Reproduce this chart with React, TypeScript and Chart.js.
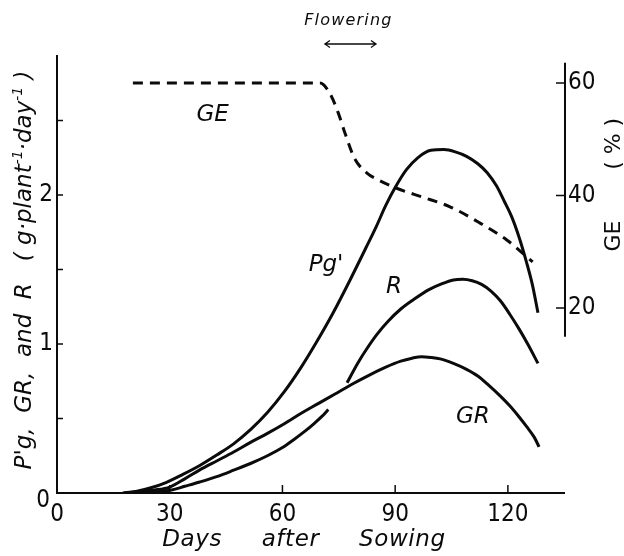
import { useEffect, useRef } from 'react';
import { Chart, registerables } from 'chart.js';

Chart.register(...registerables);

// ---- axis ticks ----
const X_TICKS = [0, 30, 60, 90, 120];
const Y_TICKS = [0, 0.5, 1, 1.5, 2, 2.5];
const GE_TICKS = [20, 40, 60];

// ---- axis ranges ----
const X_MAX = 135.2;
const Y_MAX = 2.94;
const GE_MIN = -12.9;
const GE_MAX = 65;
const GE_AXIS_TOP = 63.6;
const GE_AXIS_BOTTOM = 14.9;

// ---- gross photosynthesis Pg' (g plant-1 day-1) ----
const PG_DAYS = [17.5, 21, 25, 29, 33.5, 38, 42.5, 47, 51.5, 56, 60.5, 65, 69, 73.5, 78, 82.5, 85, 87.5, 90, 93, 96, 99.5, 103, 106, 109, 112, 114.5, 117, 119, 121, 123, 125, 126.5, 128];
const PG_VALUES = [0, 0.01, 0.035, 0.07, 0.125, 0.185, 0.255, 0.33, 0.425, 0.54, 0.68, 0.845, 1.01, 1.21, 1.43, 1.66, 1.79, 1.93, 2.05, 2.17, 2.25, 2.3, 2.305, 2.29, 2.26, 2.21, 2.15, 2.06, 1.96, 1.855, 1.715, 1.545, 1.4, 1.21];

// ---- growth rate GR ----
const GR_DAYS = [18, 22, 26, 30, 34, 38, 42.5, 47, 51.5, 56, 60.5, 65, 69.5, 74, 78.5, 83, 87.5, 91.5, 94.5, 97, 99.5, 102, 105.5, 109, 112, 115, 118, 120.5, 123, 125, 127, 128.3];
const GR_VALUES = [0, 0.01, 0.02, 0.04, 0.095, 0.155, 0.215, 0.275, 0.34, 0.4, 0.465, 0.535, 0.6, 0.665, 0.73, 0.79, 0.845, 0.885, 0.905, 0.915, 0.91, 0.9, 0.87, 0.83, 0.785, 0.72, 0.65, 0.585, 0.51, 0.445, 0.375, 0.31];

// ---- respiration R (broken around flowering) ----
const R_DAYS = [20, 25, 30.5, 34, 38, 42.5, 47, 51.5, 56, 60, 63, 66, 68.5, 70.5, 72.2, 74.5, 77.2, 80, 82.5, 85, 88, 91.5, 95, 99, 102.5, 105.5, 108, 110.5, 113, 115.5, 118, 120.5, 123, 125.5, 128];
const R_VALUES = [0, 0.005, 0.02, 0.045, 0.074, 0.11, 0.153, 0.198, 0.25, 0.305, 0.358, 0.415, 0.468, 0.514, 0.56, null, 0.74, 0.87, 0.97, 1.06, 1.15, 1.235, 1.3, 1.365, 1.405, 1.43, 1.435, 1.425, 1.4, 1.355, 1.29, 1.2, 1.1, 0.99, 0.87];

// ---- growth efficiency GE (%) ----
const GE_DAYS = [20.2, 70, 72.6, 74.8, 76.8, 79.2, 82.5, 85.5, 90.4, 97.4, 104.6, 112.6, 119.7, 126.6];
const GE_VALUES = [60, 60, 58.2, 54.8, 50.8, 46.6, 44.0, 42.8, 41.3, 39.7, 38.0, 35.1, 32.1, 28.2];

// ---- flowering period (days) ----
const FLOWERING = [71.3, 84.9];

const INK = '#0b0b0b';
const TICK_FAMILY = '"Liberation Sans Narrow", "DejaVu Sans Condensed", "Liberation Sans", sans-serif';
const LABEL_FAMILY = '"DejaVu Sans", "Liberation Sans", sans-serif';

// curve labels anchored in data space (day, value on the left axis)
const CURVE_LABELS: { text: string; day: number; value: number }[] = [
  { text: 'GE', day: 41.4, value: 2.495 },
  { text: "Pg'", day: 71.6, value: 1.49 },
  { text: 'R', day: 89.7, value: 1.342 },
  { text: 'GR', day: 110.7, value: 0.468 },
];

const toPoints = (xs: number[], ys: (number | null)[]) => xs.map((d, i) => ({ x: d, y: ys[i] }));

type Piece = { text: string; font: string; dy?: number };

function drawPieces(ctx: CanvasRenderingContext2D, pieces: Piece[], cx: number, baseline: number) {
  let total = 0;
  const widths = pieces.map((p) => {
    ctx.font = p.font;
    const w = ctx.measureText(p.text).width;
    total += w;
    return w;
  });
  let x = cx - total / 2;
  pieces.forEach((p, i) => {
    ctx.font = p.font;
    ctx.fillText(p.text, x, baseline + (p.dy || 0));
    x += widths[i];
  });
}

const decorPlugin = {
  id: 'decor',
  beforeDatasetsDraw(chart: any) {
    const { ctx, chartArea, scales } = chart;
    const xs = scales.x;
    const ys = scales.y;
    const gs = scales.ge;
    const x0 = xs.getPixelForValue(0);
    const yb = ys.getPixelForValue(0);
    const xr = chartArea.right;
    ctx.save();
    ctx.strokeStyle = INK;
    ctx.lineWidth = 2;
    // left and bottom axes
    ctx.beginPath();
    ctx.moveTo(x0, chartArea.top);
    ctx.lineTo(x0, yb);
    ctx.lineTo(xr, yb);
    ctx.stroke();
    // right GE axis, only over its own range
    ctx.beginPath();
    ctx.moveTo(xr, gs.getPixelForValue(GE_AXIS_TOP));
    ctx.lineTo(xr, gs.getPixelForValue(GE_AXIS_BOTTOM));
    ctx.stroke();
    // inward tick marks
    ctx.lineWidth = 1.5;
    ctx.beginPath();
    Y_TICKS.filter((v) => v > 0).forEach((v) => {
      const py = ys.getPixelForValue(v);
      ctx.moveTo(x0, py);
      ctx.lineTo(x0 + 6, py);
    });
    X_TICKS.filter((v) => v > 0).forEach((v) => {
      const px = xs.getPixelForValue(v);
      ctx.moveTo(px, yb);
      ctx.lineTo(px, yb - 8);
    });
    GE_TICKS.forEach((v) => {
      const py = gs.getPixelForValue(v);
      ctx.moveTo(xr - 9, py);
      ctx.lineTo(xr, py);
    });
    ctx.stroke();
    ctx.restore();
  },
  afterDraw(chart: any) {
    const { ctx, chartArea, scales } = chart;
    const xs = scales.x;
    const ys = scales.y;
    const gs = scales.ge;
    const x0 = xs.getPixelForValue(0);
    const yb = ys.getPixelForValue(0);
    ctx.save();
    ctx.fillStyle = INK;
    ctx.strokeStyle = INK;

    // origin label of the left axis
    ctx.font = `24px ${TICK_FAMILY}`;
    ctx.textAlign = 'right';
    ctx.textBaseline = 'middle';
    ctx.fillText('0', x0 - 7, yb + 8);

    // curve labels
    ctx.font = `italic 23px ${LABEL_FAMILY}`;
    ctx.textAlign = 'center';
    ctx.textBaseline = 'alphabetic';
    CURVE_LABELS.forEach((l) => {
      ctx.fillText(l.text, xs.getPixelForValue(l.day), ys.getPixelForValue(l.value));
    });

    // flowering period arrow
    const fa = xs.getPixelForValue(FLOWERING[0]);
    const fb = xs.getPixelForValue(FLOWERING[1]);
    const fy = chartArea.top - 11;
    ctx.lineWidth = 1.4;
    ctx.beginPath();
    ctx.moveTo(fa, fy);
    ctx.lineTo(fb, fy);
    ctx.moveTo(fa + 5, fy - 3.5);
    ctx.quadraticCurveTo(fa + 1.5, fy - 1, fa, fy);
    ctx.quadraticCurveTo(fa + 1.5, fy + 1, fa + 5, fy + 3.5);
    ctx.moveTo(fb - 5, fy - 3.5);
    ctx.quadraticCurveTo(fb - 1.5, fy - 1, fb, fy);
    ctx.quadraticCurveTo(fb - 1.5, fy + 1, fb - 5, fy + 3.5);
    ctx.stroke();
    ctx.font = `italic 16px ${LABEL_FAMILY}`;
    (ctx as any).letterSpacing = '1.2px';
    ctx.fillText('Flowering', (fa + fb) / 2 - 2, chartArea.top - 30);
    (ctx as any).letterSpacing = '0px';

    // x axis title
    ctx.font = `italic 23px ${LABEL_FAMILY}`;
    ctx.textAlign = 'center';
    (ctx as any).letterSpacing = '0.6px';
    ctx.fillText('Days     after     Sowing', 304, yb + 53);
    (ctx as any).letterSpacing = '0px';

    // left axis title (rotated)
    const main = `italic 23px ${LABEL_FAMILY}`;
    const sup = `italic 14px ${LABEL_FAMILY}`;
    ctx.save();
    ctx.translate(31, 270);
    ctx.rotate(-Math.PI / 2);
    ctx.textAlign = 'left';
    drawPieces(ctx, [
      { text: "P'g,  GR,  and  R   ( g·plant", font: main },
      { text: '-1', font: sup, dy: -9 },
      { text: '·day', font: main },
      { text: '-1', font: sup, dy: -9 },
      { text: ' )', font: main },
    ], 0, 0);
    ctx.restore();

    // right axis title (rotated): quantity and unit
    ctx.font = `22px ${LABEL_FAMILY}`;
    ctx.textAlign = 'center';
    ctx.save();
    ctx.translate(620, gs.getPixelForValue(32.8));
    ctx.rotate(-Math.PI / 2);
    ctx.fillText('GE', 0, 0);
    ctx.restore();
    ctx.save();
    ctx.translate(620, gs.getPixelForValue(49.2));
    ctx.rotate(-Math.PI / 2);
    ctx.fillText('( % )', 0, 0);
    ctx.restore();

    ctx.restore();
  },
};

export default function App() {
  const canvasRef = useRef<HTMLCanvasElement | null>(null);

  useEffect(() => {
    const canvas = canvasRef.current;
    if (!canvas) return;
    const curve = { borderColor: INK, borderWidth: 3, pointRadius: 0, fill: false, cubicInterpolationMode: 'monotone' as const, spanGaps: false };
    const tickFont = { family: TICK_FAMILY, size: 24 };
    const chart = new Chart(canvas, {
      type: 'line',
      data: {
        datasets: [
          { label: "Pg'", data: toPoints(PG_DAYS, PG_VALUES), yAxisID: 'y', ...curve },
          { label: 'R', data: toPoints(R_DAYS, R_VALUES), yAxisID: 'y', ...curve },
          { label: 'GR', data: toPoints(GR_DAYS, GR_VALUES), yAxisID: 'y', ...curve },
          { label: 'GE', data: toPoints(GE_DAYS, GE_VALUES), yAxisID: 'ge', ...curve, borderDash: [10, 7] },
        ] as any,
      },
      options: {
        responsive: false,
        animation: false,
        devicePixelRatio: 1,
        layout: { padding: { top: 55, left: 0, right: 0, bottom: 0 } },
        plugins: { legend: { display: false }, tooltip: { enabled: false } },
        scales: {
          x: {
            type: 'linear',
            min: 0,
            max: X_MAX,
            afterBuildTicks: (s: any) => { s.ticks = X_TICKS.map((v) => ({ value: v })); },
            afterFit: (s: any) => { s.height = 63; },
            grid: { display: false, drawTicks: false },
            border: { display: false },
            ticks: { padding: 7, color: INK, font: tickFont, maxRotation: 0, autoSkip: false, callback: (v: any) => String(v) },
          },
          y: {
            type: 'linear',
            position: 'left',
            min: 0,
            max: Y_MAX,
            afterBuildTicks: (s: any) => { s.ticks = Y_TICKS.map((v) => ({ value: v })); },
            afterFit: (s: any) => { s.width = 57; },
            grid: { display: false, drawTicks: false },
            border: { display: false },
            ticks: { padding: 4, color: INK, font: tickFont, callback: (v: any) => (Number.isInteger(v) && v !== 0 ? String(v) : '') },
          },
          ge: {
            type: 'linear',
            position: 'right',
            min: GE_MIN,
            max: GE_MAX,
            afterBuildTicks: (s: any) => { s.ticks = GE_TICKS.map((v) => ({ value: v })); },
            afterFit: (s: any) => { s.width = 59; },
            grid: { display: false, drawTicks: false },
            border: { display: false },
            ticks: { padding: 3, color: INK, font: tickFont, callback: (v: any) => String(v) },
          },
        },
      } as any,
      plugins: [decorPlugin],
    });
    return () => chart.destroy();
  }, []);

  return (
    <div style={{ position: 'fixed', left: 0, top: 0, width: 624, height: 556, background: '#fff' }}>
      <canvas ref={canvasRef} width={624} height={556} style={{ display: 'block', width: 624, height: 556 }} />
    </div>
  );
}
